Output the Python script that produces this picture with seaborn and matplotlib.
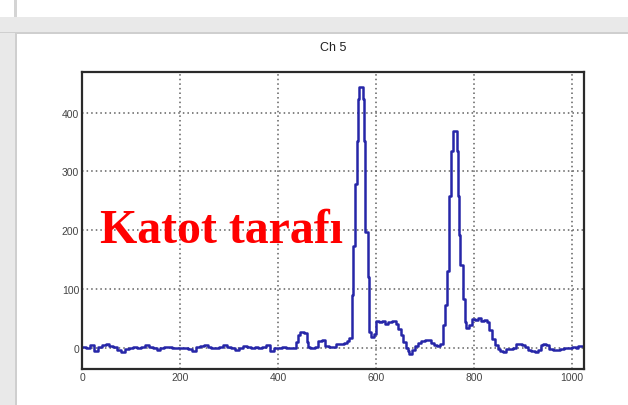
import matplotlib
matplotlib.use("Agg")
import matplotlib.pyplot as plt
from matplotlib.patches import Rectangle
from matplotlib.ticker import MultipleLocator
import seaborn as sns

# Channel 5 spectrum: left bin edges (ADC channel) and bin contents
channel = [
    0, 8, 16, 24, 32, 40, 48, 56, 64, 72, 80, 88, 96, 104, 112, 120, 128, 136,
    144, 152, 160, 168, 176, 184, 192, 200, 208, 216, 224, 232, 240, 248, 256,
    264, 272, 280, 288, 296, 304, 312, 320, 328, 336, 344, 352, 360, 368, 376,
    384, 392, 400, 408, 416, 424, 432, 436, 440, 444, 452, 458, 462, 466, 476,
    482, 490, 496, 504, 512, 518, 528, 534, 540, 544, 550, 553, 557, 561, 563,
    565, 573, 576, 578, 583, 586, 589, 596, 600, 606, 612, 618, 624, 632, 640,
    645, 650, 655, 660, 664, 668, 674, 680, 686, 692, 700, 706, 712, 718, 724,
    730, 735, 737, 740, 744, 748, 752, 756, 764, 767, 769, 772, 778, 781, 784,
    790, 795, 802, 808, 814, 820, 826, 830, 836, 842, 848, 852, 858, 864, 872,
    880, 886, 892, 898, 904, 910, 916, 924, 930, 936, 940, 946, 952, 960, 968,
    976, 984, 992, 1000, 1008, 1012, 1020, 1024,
]
counts = [
    2, 0, 4, -5, 2, 4, 6, 3, 1, -3, -7, -2, 0, 2, -1, 1, 4, 2,
    -1, -4, 0, 2, 1, -1, 0, -1, 0, -2, -5, 1, 3, 5, 1,
    0, -1, 2, 4, 1, 0, -3, 0, 3, 1, 0, 1, 0, 2, 4,
    -5, -1, 0, 1, 0, 0, 0, 10, 22, 27, 25, 10, 2, 0, 1,
    12, 13, 3, 1, 2, 7, 6, 9, 12, 17, 89, 173, 278, 352, 423,
    444, 423, 352, 197, 121, 27, 19, 24, 46, 44, 46, 41, 44, 45, 40,
    32, 22, 10, 0, -6, -10, -4, 3, 8, 12, 13, 14, 9, 4, 3,
    6, 7, 38, 72, 131, 259, 335, 369, 335, 259, 191, 140, 83, 44, 34,
    38, 49, 47, 50, 46, 48, 44, 30, 15, 4, -2, -6, -7, -2, -2,
    0, 6, 7, 5, 1, -3, -6, -7, -3, 4, 7, 5, -2, -3, -4,
    -2, 0, 0, 1, 0, 3, 3, 3,
]

sns.set_style("white")
plt.rcParams["font.family"] = ["Liberation Sans", "DejaVu Sans"]

W, H = 628, 406
fig = plt.figure(figsize=(W / 100, H / 100), dpi=100)
fig.patch.set_facecolor("white")


def px_rect(x0, y0, x1, y1, color):
    fig.patches.append(Rectangle((x0 / W, 1 - y1 / H), (x1 - x0) / W, (y1 - y0) / H,
                                 transform=fig.transFigure, facecolor=color,
                                 edgecolor="none", zorder=0))


# window chrome around the canvas
px_rect(0, 18, W, 34, "#e9e9e9")
px_rect(0, 33, W, 35, "#cfcfcf")
px_rect(0, 34, 15, H, "#e9e9e9")
px_rect(15, 34, 17, H, "#cfcfcf")
px_rect(14, 0, 17, 18, "#d4d4d4")

ax = fig.add_axes([82 / W, 1 - 370 / H, (584 - 82) / W, (370 - 73) / H])
sns.lineplot(x=channel, y=counts, drawstyle="steps-post", estimator=None, sort=False,
             color="#2626a8", linewidth=1.8, ax=ax)

ax.set_xlim(0, 1024)
ax.set_ylim(-36, 469)
ax.xaxis.set_major_locator(MultipleLocator(200))
ax.xaxis.set_minor_locator(MultipleLocator(50))
ax.yaxis.set_major_locator(MultipleLocator(100))
ax.yaxis.set_minor_locator(MultipleLocator(20))
ax.tick_params(axis="both", which="both", direction="in", color="#333333",
               labelcolor="#444444", labelsize=7.5)
ax.tick_params(axis="x", which="major", length=6.5, width=1.3, pad=2)
ax.tick_params(axis="x", which="minor", length=3.6, width=1.3)
ax.tick_params(axis="y", which="major", length=9.4, width=1.3, pad=2)
ax.tick_params(axis="y", which="minor", length=5, width=1.3)
ax.grid(True, which="major", linestyle=(0, (1, 2)), linewidth=1.1, color="#606060")
for sp in ax.spines.values():
    sp.set_linewidth(1.6)
    sp.set_color("#2a2a2a")
ax.set_xlabel("")
ax.set_ylabel("")

fig.text(333 / W, 1 - 48 / H, "Ch 5", ha="center", va="center", fontsize=9,
         color="#222222")
fig.text(100 / W, 1 - 243 / H, "Katot tarafı", ha="left", va="baseline",
         fontsize=34.5, family=["Liberation Serif", "DejaVu Serif"], weight="bold",
         color="#ff0000")

fig.savefig("out.png", dpi=100)
